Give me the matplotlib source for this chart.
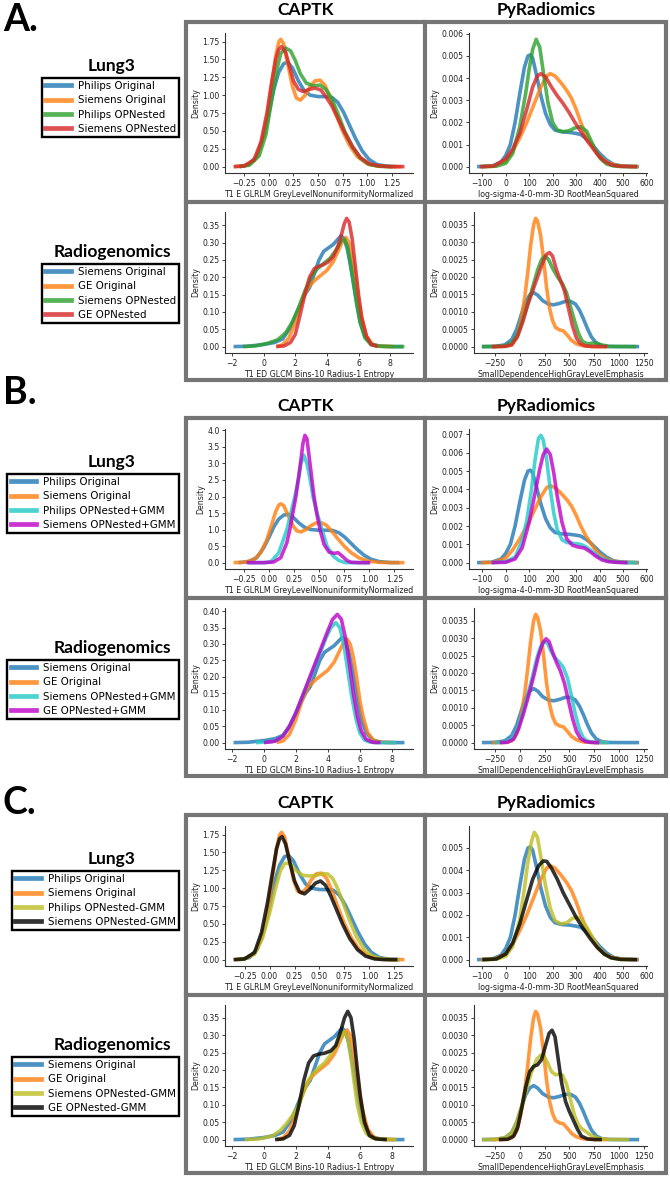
import matplotlib
matplotlib.use("Agg")
import numpy as np
import matplotlib.pyplot as plt
from matplotlib.lines import Line2D
from matplotlib.patches import Rectangle
from matplotlib.ticker import MultipleLocator

# ------------------------------------------------------------------ DATA
# Lung3 / CAPTK : T1 E GLRLM GreyLevelNonuniformityNormalized (density)
l3c_philips_orig_x = [-0.30, -0.20, -0.12, -0.05, 0.00, 0.05, 0.10, 0.15, 0.19, 0.24, 0.30, 0.36, 0.42, 0.50, 0.58, 0.64, 0.70, 0.76, 0.82, 0.88, 0.95, 1.02, 1.10, 1.20, 1.30]
l3c_philips_orig_y = [0.00, 0.03, 0.15, 0.45, 0.75, 1.08, 1.32, 1.44, 1.46, 1.38, 1.20, 1.06, 1.00, 0.98, 0.98, 0.97, 0.90, 0.76, 0.58, 0.40, 0.22, 0.10, 0.03, 0.005, 0.0]
l3c_siemens_orig_x = [-0.35, -0.25, -0.15, -0.08, -0.02, 0.03, 0.07, 0.10, 0.12, 0.15, 0.19, 0.24, 0.28, 0.32, 0.37, 0.42, 0.47, 0.52, 0.57, 0.62, 0.68, 0.75, 0.82, 0.90, 1.00, 1.10, 1.20, 1.35]
l3c_siemens_orig_y = [0.0, 0.01, 0.08, 0.30, 0.68, 1.15, 1.55, 1.74, 1.78, 1.72, 1.45, 1.12, 0.96, 0.93, 1.00, 1.12, 1.20, 1.21, 1.14, 0.98, 0.75, 0.50, 0.30, 0.14, 0.04, 0.01, 0.0, 0.0]
l3c_philips_opn_x = [-0.30, -0.20, -0.10, -0.03, 0.03, 0.08, 0.12, 0.17, 0.22, 0.27, 0.32, 0.38, 0.45, 0.52, 0.58, 0.64, 0.70, 0.77, 0.85, 0.93, 1.02, 1.12, 1.25]
l3c_philips_opn_y = [0.0, 0.02, 0.15, 0.45, 0.95, 1.35, 1.58, 1.66, 1.62, 1.48, 1.30, 1.17, 1.13, 1.14, 1.08, 0.95, 0.75, 0.50, 0.28, 0.12, 0.03, 0.005, 0.0]
l3c_siemens_opn_x = [-0.36, -0.25, -0.15, -0.08, -0.02, 0.03, 0.07, 0.10, 0.13, 0.17, 0.21, 0.25, 0.30, 0.35, 0.41, 0.47, 0.53, 0.58, 0.64, 0.70, 0.77, 0.85, 0.93, 1.02, 1.12, 1.25, 1.38]
l3c_siemens_opn_y = [0.0, 0.01, 0.10, 0.35, 0.75, 1.20, 1.50, 1.64, 1.68, 1.60, 1.40, 1.20, 1.08, 1.05, 1.08, 1.10, 1.07, 0.98, 0.85, 0.68, 0.48, 0.28, 0.13, 0.04, 0.01, 0.0, 0.0]
l3c_philips_gmm_plus_x = [-0.20, -0.05, 0.02, 0.10, 0.18, 0.22, 0.26, 0.30, 0.32, 0.35, 0.38, 0.41, 0.44, 0.48, 0.53, 0.58, 0.64, 0.70, 0.76, 0.88, 1.00]
l3c_philips_gmm_plus_y = [0.0, 0.0, 0.02, 0.3, 1.0, 1.5, 2.0, 2.6, 3.0, 3.25, 3.0, 2.55, 2.0, 1.5, 1.0, 0.5, 0.2, 0.06, 0.0, 0.0, 0.0]
l3c_siemens_gmm_plus_x = [-0.22, -0.05, 0.05, 0.12, 0.18, 0.21, 0.24, 0.27, 0.30, 0.32, 0.34, 0.36, 0.38, 0.41, 0.43, 0.45, 0.48, 0.51, 0.55, 0.60, 0.65, 0.69, 0.73, 0.78, 0.82, 0.90, 1.01]
l3c_siemens_gmm_plus_y = [0.0, 0.0, 0.02, 0.15, 0.6, 1.0, 1.5, 2.0, 2.65, 3.1, 3.6, 3.85, 3.75, 3.0, 2.5, 2.0, 1.45, 1.0, 0.55, 0.32, 0.28, 0.3, 0.2, 0.06, 0.01, 0.0, 0.0]
l3c_philips_gmm_minus_x = [-0.33, -0.25, -0.15, -0.07, 0.00, 0.06, 0.11, 0.15, 0.18, 0.22, 0.27, 0.33, 0.40, 0.47, 0.53, 0.58, 0.63, 0.68, 0.74, 0.80, 0.87, 0.95, 1.03, 1.12, 1.22, 1.30]
l3c_philips_gmm_minus_y = [0.0, 0.01, 0.08, 0.30, 0.65, 1.00, 1.25, 1.34, 1.35, 1.32, 1.24, 1.18, 1.17, 1.18, 1.20, 1.20, 1.14, 1.00, 0.78, 0.55, 0.32, 0.14, 0.05, 0.01, 0.0, 0.0]
l3c_siemens_gmm_minus_x = [-0.36, -0.25, -0.15, -0.08, -0.02, 0.03, 0.07, 0.10, 0.125, 0.16, 0.20, 0.25, 0.30, 0.35, 0.40, 0.46, 0.51, 0.56, 0.61, 0.67, 0.73, 0.80, 0.88, 0.96, 1.05, 1.15, 1.28]
l3c_siemens_gmm_minus_y = [0.0, 0.01, 0.10, 0.38, 0.80, 1.22, 1.55, 1.69, 1.72, 1.62, 1.38, 1.10, 0.95, 0.92, 0.98, 1.07, 1.10, 1.04, 0.90, 0.70, 0.50, 0.30, 0.14, 0.05, 0.01, 0.0, 0.0]

# Lung3 / PyRadiomics : log-sigma-4-0-mm-3D RootMeanSquared (density, x 1e-3)
l3p_philips_orig_x = [-122, -60, -20, 0, 20, 40, 60, 80, 95, 105, 115, 130, 150, 170, 190, 210, 240, 270, 300, 320, 340, 360, 380, 400, 430, 460, 500, 568]
l3p_philips_orig_y = [0, 0.02, 0.2, 0.5, 1.0, 2.0, 3.3, 4.5, 5.0, 5.05, 4.9, 4.2, 3.2, 2.4, 1.9, 1.65, 1.57, 1.55, 1.5, 1.45, 1.3, 1.1, 0.85, 0.6, 0.3, 0.1, 0.02, 0]
l3p_siemens_orig_x = [-105, -50, 0, 30, 60, 90, 120, 150, 175, 190, 210, 235, 260, 280, 300, 320, 340, 360, 380, 400, 430, 470, 520, 565]
l3p_siemens_orig_y = [0, 0.02, 0.25, 0.7, 1.3, 2.0, 2.8, 3.6, 4.1, 4.2, 4.1, 3.8, 3.45, 3.1, 2.6, 2.0, 1.5, 1.1, 0.75, 0.45, 0.2, 0.05, 0.01, 0]
l3p_philips_opn_x = [-105, -40, 0, 30, 60, 85, 100, 115, 130, 145, 160, 180, 200, 220, 245, 270, 295, 320, 345, 365, 385, 405, 430, 460, 500, 560]
l3p_philips_opn_y = [0, 0.02, 0.15, 0.6, 1.8, 3.3, 4.4, 5.3, 5.75, 5.4, 4.3, 2.9, 2.0, 1.65, 1.58, 1.62, 1.75, 1.8, 1.6, 1.15, 0.7, 0.35, 0.12, 0.03, 0.005, 0]
l3p_siemens_opn_x = [-110, -50, 0, 30, 60, 90, 115, 135, 150, 170, 195, 220, 245, 270, 295, 320, 345, 370, 395, 420, 450, 490, 560]
l3p_siemens_opn_y = [0, 0.03, 0.35, 0.8, 1.5, 2.6, 3.6, 4.1, 4.2, 4.05, 3.6, 3.2, 2.85, 2.45, 2.0, 1.6, 1.2, 0.85, 0.5, 0.25, 0.08, 0.01, 0]
l3p_philips_gmm_plus_x = [-60, 0, 40, 70, 90, 110, 125, 140, 150, 160, 175, 190, 205, 220, 240, 260, 290, 320, 345, 370, 400, 430, 470, 520, 560]
l3p_philips_gmm_plus_y = [0, 0.05, 0.3, 1.2, 2.3, 4.0, 5.6, 6.8, 6.95, 6.7, 5.6, 4.0, 2.7, 1.8, 1.25, 1.1, 1.05, 1.0, 0.85, 0.6, 0.3, 0.12, 0.03, 0.005, 0]
l3p_siemens_gmm_plus_x = [-60, 0, 40, 70, 100, 125, 145, 160, 175, 190, 205, 220, 240, 260, 285, 310, 335, 360, 385, 410, 440, 480, 520]
l3p_siemens_gmm_plus_y = [0, 0.02, 0.2, 0.8, 2.2, 3.8, 5.1, 5.9, 6.2, 5.9, 4.9, 3.6, 2.2, 1.3, 0.95, 0.85, 0.8, 0.6, 0.35, 0.15, 0.05, 0.01, 0]
l3p_philips_gmm_minus_x = [-100, -40, 0, 30, 60, 80, 95, 110, 122, 135, 150, 170, 190, 210, 235, 260, 285, 305, 325, 345, 370, 395, 420, 450, 490, 540]
l3p_philips_gmm_minus_y = [0, 0.02, 0.15, 0.6, 1.8, 3.2, 4.4, 5.3, 5.7, 5.5, 4.6, 3.3, 2.3, 1.75, 1.6, 1.65, 1.85, 1.9, 1.75, 1.45, 1.0, 0.55, 0.25, 0.08, 0.01, 0]
l3p_siemens_gmm_minus_x = [-100, -40, 0, 30, 60, 90, 115, 140, 160, 175, 195, 220, 245, 270, 300, 330, 360, 390, 420, 450, 490, 560]
l3p_siemens_gmm_minus_y = [0, 0.03, 0.25, 0.75, 1.6, 2.7, 3.6, 4.2, 4.42, 4.4, 4.1, 3.6, 3.0, 2.5, 1.9, 1.4, 0.95, 0.55, 0.25, 0.08, 0.01, 0]

# Radiogenomics / CAPTK : T1 ED GLCM Bins-10 Radius-1 Entropy (density)
rgc_siemens_orig_x = [-1.9, -1.0, 0.0, 0.7, 1.2, 1.7, 2.2, 2.6, 2.9, 3.2, 3.5, 3.8, 4.1, 4.4, 4.7, 4.9, 5.1, 5.3, 5.5, 5.7, 5.9, 6.1, 6.4, 6.8, 7.3, 8.0, 8.8]
rgc_siemens_orig_y = [0, 0.001, 0.006, 0.012, 0.022, 0.055, 0.11, 0.15, 0.17, 0.21, 0.25, 0.275, 0.285, 0.295, 0.31, 0.32, 0.31, 0.28, 0.23, 0.175, 0.12, 0.07, 0.03, 0.008, 0.001, 0, 0]
rgc_ge_orig_x = [0.8, 1.2, 1.6, 2.0, 2.4, 2.8, 3.2, 3.6, 4.0, 4.4, 4.7, 5.0, 5.2, 5.4, 5.6, 5.8, 6.0, 6.2, 6.5, 6.9, 7.4, 8.2]
rgc_ge_orig_y = [0, 0.005, 0.025, 0.07, 0.13, 0.17, 0.19, 0.205, 0.22, 0.245, 0.275, 0.305, 0.315, 0.30, 0.26, 0.20, 0.13, 0.08, 0.03, 0.005, 0.001, 0]
rgc_siemens_opn_x = [-1.3, -0.5, 0.3, 0.9, 1.4, 1.8, 2.2, 2.6, 3.0, 3.4, 3.8, 4.2, 4.6, 4.9, 5.1, 5.3, 5.5, 5.7, 5.9, 6.1, 6.4, 6.8, 7.4, 8.2, 8.9]
rgc_siemens_opn_y = [0, 0.002, 0.01, 0.02, 0.04, 0.07, 0.11, 0.16, 0.20, 0.225, 0.24, 0.255, 0.28, 0.305, 0.31, 0.29, 0.24, 0.18, 0.12, 0.07, 0.025, 0.005, 0.001, 0, 0]
rgc_ge_opn_x = [0.8, 1.3, 1.7, 2.0, 2.3, 2.6, 2.9, 3.2, 3.5, 3.8, 4.1, 4.4, 4.7, 4.9, 5.1, 5.25, 5.4, 5.6, 5.8, 6.0, 6.2, 6.5, 6.8, 7.2]
rgc_ge_opn_y = [0, 0.002, 0.012, 0.035, 0.09, 0.15, 0.20, 0.225, 0.232, 0.237, 0.245, 0.26, 0.29, 0.32, 0.355, 0.37, 0.36, 0.31, 0.23, 0.15, 0.085, 0.03, 0.006, 0]
rgc_siemens_gmm_plus_x = [-0.5, 0.5, 1.0, 1.5, 2.0, 2.5, 3.0, 3.5, 3.9, 4.2, 4.5, 4.75, 5.0, 5.25, 5.5, 5.75, 6.0, 6.3, 6.6, 7.0, 7.5, 8.3]
rgc_siemens_gmm_plus_y = [0, 0.003, 0.012, 0.04, 0.09, 0.15, 0.21, 0.27, 0.32, 0.35, 0.365, 0.35, 0.30, 0.22, 0.14, 0.075, 0.03, 0.008, 0.002, 0, 0, 0]
rgc_ge_gmm_plus_x = [0.0, 0.7, 1.2, 1.6, 2.0, 2.4, 2.8, 3.2, 3.6, 4.0, 4.3, 4.6, 4.85, 5.1, 5.35, 5.6, 5.85, 6.1, 6.4, 6.8, 7.3]
rgc_ge_gmm_plus_y = [0, 0.004, 0.02, 0.05, 0.09, 0.14, 0.19, 0.24, 0.29, 0.34, 0.375, 0.39, 0.375, 0.32, 0.24, 0.15, 0.08, 0.035, 0.01, 0.001, 0]
rgc_siemens_gmm_minus_x = [-1.2, -0.3, 0.5, 1.0, 1.4, 1.8, 2.2, 2.6, 3.0, 3.4, 3.8, 4.2, 4.6, 4.85, 5.05, 5.25, 5.45, 5.65, 5.85, 6.1, 6.4, 6.8, 7.4, 8.3]
rgc_siemens_gmm_minus_y = [0, 0.002, 0.01, 0.025, 0.045, 0.07, 0.10, 0.15, 0.185, 0.205, 0.22, 0.245, 0.275, 0.30, 0.31, 0.29, 0.235, 0.165, 0.10, 0.05, 0.018, 0.004, 0.001, 0]
rgc_ge_gmm_minus_x = [0.7, 1.2, 1.6, 1.9, 2.2, 2.5, 2.8, 3.1, 3.4, 3.8, 4.2, 4.5, 4.8, 5.05, 5.25, 5.45, 5.65, 5.85, 6.05, 6.3, 6.6, 7.0, 7.7]
rgc_ge_gmm_minus_y = [0, 0.002, 0.012, 0.04, 0.10, 0.17, 0.22, 0.24, 0.245, 0.248, 0.255, 0.27, 0.31, 0.35, 0.368, 0.35, 0.29, 0.20, 0.12, 0.05, 0.012, 0.002, 0]

# Radiogenomics / PyRadiomics : SmallDependenceHighGrayLevelEmphasis (density, x 1e-3)
rgp_siemens_orig_x = [-380, -250, -150, -80, -30, 20, 60, 100, 140, 180, 230, 290, 340, 400, 460, 510, 560, 600, 640, 680, 720, 770, 830, 900, 1000, 1200]
rgp_siemens_orig_y = [0, 0.005, 0.05, 0.2, 0.5, 0.95, 1.28, 1.48, 1.55, 1.48, 1.32, 1.22, 1.2, 1.24, 1.3, 1.3, 1.22, 1.05, 0.8, 0.52, 0.28, 0.1, 0.02, 0.003, 0, 0]
rgp_ge_orig_x = [-280, -150, -80, -30, 10, 50, 80, 110, 140, 160, 180, 210, 240, 270, 300, 330, 360, 400, 440, 480, 520, 570, 640, 750, 880]
rgp_ge_orig_y = [0, 0.005, 0.05, 0.25, 0.7, 1.4, 2.1, 2.9, 3.5, 3.68, 3.6, 3.2, 2.5, 1.7, 1.1, 0.75, 0.55, 0.48, 0.45, 0.32, 0.18, 0.08, 0.02, 0.002, 0]
rgp_siemens_opn_x = [-380, -250, -150, -80, -20, 30, 80, 130, 180, 220, 255, 290, 330, 380, 430, 470, 510, 550, 590, 630, 680, 730, 770, 820, 900, 1170]
rgp_siemens_opn_y = [0, 0.002, 0.02, 0.1, 0.35, 0.75, 1.2, 1.7, 2.2, 2.5, 2.6, 2.5, 2.25, 2.0, 1.8, 1.55, 1.15, 0.75, 0.38, 0.15, 0.08, 0.1, 0.1, 0.05, 0.005, 0]
rgp_ge_opn_x = [-280, -150, -80, -20, 30, 80, 130, 180, 230, 270, 300, 330, 370, 410, 450, 490, 530, 570, 610, 660, 720, 800, 880]
rgp_ge_opn_y = [0, 0.005, 0.05, 0.3, 0.7, 1.2, 1.6, 2.0, 2.4, 2.65, 2.7, 2.6, 2.2, 1.9, 1.6, 1.1, 0.6, 0.25, 0.08, 0.02, 0.003, 0, 0]
rgp_siemens_gmm_plus_x = [-250, -150, -80, -30, 20, 70, 120, 170, 210, 250, 280, 310, 350, 400, 440, 480, 520, 560, 600, 640, 690, 750, 830, 900]
rgp_siemens_gmm_plus_y = [0, 0.01, 0.1, 0.35, 0.75, 1.25, 1.8, 2.4, 2.75, 2.9, 2.85, 2.65, 2.45, 2.3, 2.15, 1.85, 1.35, 0.8, 0.38, 0.13, 0.03, 0.005, 0, 0]
rgp_ge_gmm_plus_x = [-200, -120, -60, -10, 40, 90, 140, 190, 230, 265, 295, 330, 370, 410, 450, 490, 530, 570, 610, 660, 720, 800]
rgp_ge_gmm_plus_y = [0, 0.01, 0.1, 0.4, 0.85, 1.35, 1.9, 2.5, 2.85, 2.98, 2.9, 2.6, 2.3, 2.05, 1.7, 1.2, 0.7, 0.32, 0.12, 0.03, 0.004, 0]
rgp_siemens_gmm_minus_x = [-380, -250, -150, -80, -30, 20, 70, 120, 170, 210, 245, 280, 320, 360, 400, 430, 470, 510, 550, 590, 630, 680, 730, 800, 900, 1100]
rgp_siemens_gmm_minus_y = [0, 0.005, 0.05, 0.2, 0.5, 0.95, 1.45, 1.95, 2.3, 2.42, 2.4, 2.2, 1.95, 1.86, 1.88, 1.85, 1.6, 1.15, 0.7, 0.42, 0.3, 0.2, 0.1, 0.03, 0.005, 0]
rgp_ge_gmm_minus_x = [-210, -120, -60, -20, 20, 60, 100, 140, 180, 220, 260, 295, 325, 355, 385, 420, 460, 500, 540, 580, 620, 680, 750, 826]
rgp_ge_gmm_minus_y = [0, 0.01, 0.1, 0.35, 0.9, 1.5, 1.95, 2.1, 2.15, 2.3, 2.7, 3.05, 3.14, 2.95, 2.35, 1.65, 1.1, 0.8, 0.55, 0.3, 0.1, 0.02, 0.003, 0]

PYRAD_Y_UNIT = 1e-3

panel_letters = ["A.", "B.", "C."]
column_titles = ["CAPTK", "PyRadiomics"]
dataset_titles = ["Lung3", "Radiogenomics"]
xlabels = [["T1 E GLRLM GreyLevelNonuniformityNormalized", "log-sigma-4-0-mm-3D RootMeanSquared"],
           ["T1 ED GLCM Bins-10 Radius-1 Entropy", "SmallDependenceHighGrayLevelEmphasis"]]
lung3_labels = [["Philips Original", "Siemens Original", "Philips OPNested", "Siemens OPNested"],
                ["Philips Original", "Siemens Original", "Philips OPNested+GMM", "Siemens OPNested+GMM"],
                ["Philips Original", "Siemens Original", "Philips OPNested-GMM", "Siemens OPNested-GMM"]]
radio_labels = [["Siemens Original", "GE Original", "Siemens OPNested", "GE OPNested"],
                ["Siemens Original", "GE Original", "Siemens OPNested+GMM", "GE OPNested+GMM"],
                ["Siemens Original", "GE Original", "Siemens OPNested-GMM", "GE OPNested-GMM"]]
panel_colors = [["#1f77b4", "#ff7f0e", "#2ca02c", "#d62728"],
                ["#1f77b4", "#ff7f0e", "#22c8c8", "#c000c8"],
                ["#1f77b4", "#ff7f0e", "#bcbd22", "#000000"]]

harm = ["opn", "gmm_plus", "gmm_minus"]

def series(prefix, a, b, h):
    g = globals()
    return [(g[f"{prefix}_{a}_orig_x"], g[f"{prefix}_{a}_orig_y"]),
            (g[f"{prefix}_{b}_orig_x"], g[f"{prefix}_{b}_orig_y"]),
            (g[f"{prefix}_{a}_{h}_x"], g[f"{prefix}_{a}_{h}_y"]),
            (g[f"{prefix}_{b}_{h}_x"], g[f"{prefix}_{b}_{h}_y"])]

# ------------------------------------------------------------------ LAYOUT
W, H = 670, 1179
fig = plt.figure(figsize=(W / 100, H / 100), dpi=100)
fig.patch.set_facecolor("white")

def fx(px):
    return px / W

def fy(py):
    return 1 - py / H

def add_axes_px(x0, y0, x1, y1):
    return fig.add_axes([fx(x0), fy(y1), fx(x1) - fx(x0), (y1 - y0) / H])

panel_tops = [22, 418, 815]
label_y = [20, 393, 803]
TITLE_FONT = ["Lato", "DejaVu Sans"]
FRAME = "#757575"

x_steps = [[0.25, 100], [2, 250]]
y_steps = [[[0.25, 0.001], [0.05, 0.0005]],
           [[0.5, 0.001], [0.05, 0.0005]],
           [[0.25, 0.001], [0.05, 0.0005]]]

for p in range(3):
    T = panel_tops[p]
    # frames
    fig.add_artist(Rectangle((fx(186), fy(T + 358)), fx(666) - fx(186), 358 / H,
                             transform=fig.transFigure, fill=False, ec=FRAME, lw=3.0))
    fig.add_artist(Line2D([fx(425), fx(425)], [fy(T), fy(T + 358)], transform=fig.transFigure,
                          color=FRAME, lw=3.0))
    fig.add_artist(Line2D([fx(186), fx(666)], [fy(T + 180), fy(T + 180)], transform=fig.transFigure,
                          color=FRAME, lw=3.0))
    # headers
    fig.text(fx(306), fy(T - 12), column_titles[0], ha="center", va="center",
             fontsize=12.5, fontweight="bold", family=TITLE_FONT)
    fig.text(fx(546), fy(T - 12), column_titles[1], ha="center", va="center",
             fontsize=12.5, fontweight="bold", family=TITLE_FONT)
    fig.text(fx(3), fy(label_y[p]), panel_letters[p], ha="left", va="center",
             fontsize=27, fontweight="bold", family=TITLE_FONT)

    data = [[series("l3c", "philips", "siemens", harm[p]), series("l3p", "philips", "siemens", harm[p])],
            [series("rgc", "siemens", "ge", harm[p]), series("rgp", "siemens", "ge", harm[p])]]
    labels = [lung3_labels[p], radio_labels[p]]
    cols = panel_colors[p]

    rows_px = [(T + 11, T + 151), (T + 190, T + 331)]
    cols_px = [[(225, 413), (469, 647)], [(225, 413), (474, 647)]]
    for r in range(2):
        for c in range(2):
            x0, x1 = cols_px[r][c]
            y0, y1 = rows_px[r]
            ax = add_axes_px(x0, y0, x1, y1)
            scale = PYRAD_Y_UNIT if c == 1 else 1.0
            for k, (xs, ys) in enumerate(data[r][c]):
                ax.plot(xs, np.asarray(ys) * scale, color=cols[k], lw=2.6, alpha=0.8,
                        solid_capstyle="butt")
            ax.spines["top"].set_visible(False)
            ax.spines["right"].set_visible(False)
            for s in ("left", "bottom"):
                ax.spines[s].set_linewidth(0.8)
                ax.spines[s].set_color("#333333")
            ax.xaxis.set_major_locator(MultipleLocator(x_steps[r][c]))
            ax.yaxis.set_major_locator(MultipleLocator(y_steps[p][r][c]))
            ax.tick_params(labelsize=5.6, length=2.5, width=0.6, pad=1.5, colors="#222222")
            ax.set_xlabel(xlabels[r][c], fontsize=5.7, labelpad=1.5, color="#222222")
            ax.set_ylabel("Density", fontsize=5.6, labelpad=1.5, color="#222222")
            ax.set_facecolor("white")

    # legends
    for r in range(2):
        ty = T + 44 if r == 0 else T + 230
        fig.text(fx(112), fy(ty), dataset_titles[r], ha="center", va="center",
                 fontsize=12.5, fontweight="bold", family=TITLE_FONT)
        handles = [Line2D([0], [0], color=cols[k], lw=3.4, alpha=0.8) for k in range(4)]
        leg = fig.legend(handles, labels[r], loc="upper right",
                         bbox_to_anchor=(fx(179), fy(ty + 12)), bbox_transform=fig.transFigure,
                         fontsize=7.4, frameon=True, fancybox=False, borderpad=0.3,
                         labelspacing=0.42, handlelength=2.5, handletextpad=0.7,
                         borderaxespad=0.0)
        fr = leg.get_frame()
        fr.set_edgecolor("black")
        fr.set_linewidth(1.7)
        fr.set_alpha(1.0)

fig.savefig("out.png", dpi=100, facecolor="white")
